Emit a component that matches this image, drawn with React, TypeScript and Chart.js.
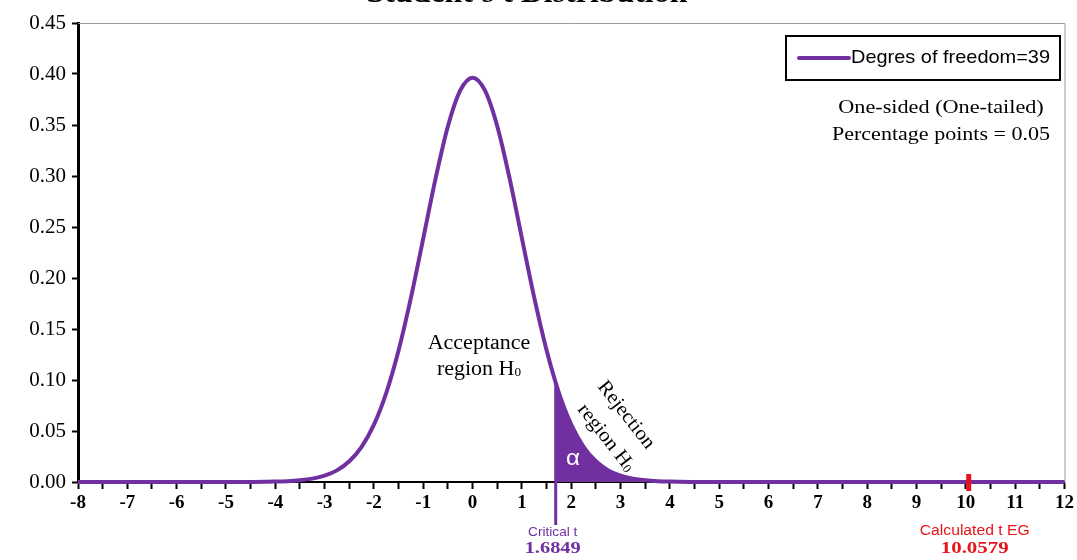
import React, { useEffect, useRef } from "react";
import { Chart, registerables } from "chart.js";

Chart.register(...registerables);

const titleText = "Student's t Distribution";
const seriesLabel = "Degres of freedom=39";
const criticalT = 1.6849;
const calculatedT = 10.0579;

const tValues = [
  -8, -6, -5, -4.5, -4, -3.75, -3.5, -3.25, -3, -2.75, -2.5, -2.25, -2, -1.75, -1.5, -1.25, -1,
  -0.75, -0.5, -0.25, 0, 0.25, 0.5, 0.75, 1, 1.25, 1.5, 1.75, 2, 2.25, 2.5, 2.75, 3, 3.25, 3.5,
  3.75, 4, 4.5, 5, 6, 8, 10, 12,
];
const densities = [
  0, 0, 0, 0.0001, 0.0004, 0.0008, 0.0017, 0.0033, 0.0062, 0.0114, 0.0203, 0.0345, 0.0562,
  0.0874, 0.1291, 0.1807, 0.2389, 0.2977, 0.3488, 0.3839, 0.3964, 0.3839, 0.3488, 0.2977,
  0.2389, 0.1807, 0.1291, 0.0874, 0.0562, 0.0345, 0.0203, 0.0114, 0.0062, 0.0033, 0.0017,
  0.0008, 0.0004, 0.0001, 0, 0, 0, 0, 0,
];

const tailT = [1.6849, 1.75, 2, 2.25, 2.5, 2.75, 3, 3.25, 3.5, 3.75, 4, 4.5, 5, 12];
const tailDensity = [
  0.0972, 0.0874, 0.0562, 0.0345, 0.0203, 0.0114, 0.0062, 0.0033, 0.0017, 0.0008, 0.0004,
  0.0001, 0, 0,
];

const yTicks = [0, 0.05, 0.1, 0.15, 0.2, 0.25, 0.3, 0.35, 0.4, 0.45];

const PURPLE = "#7030A0";
const RED = "#E8141B";
const SERIF = "'Liberation Serif', 'Times New Roman', serif";
const SANS = "'Liberation Sans', Arial, sans-serif";

function txt(ctx: any, s: string, x: number, y: number, font: string, align: string, sx: number) {
  ctx.save();
  ctx.translate(x, y);
  ctx.scale(sx, 1);
  ctx.font = font;
  ctx.textAlign = align;
  ctx.fillText(s, 0, 0);
  ctx.restore();
}

function subText(ctx: any, main: string, sub: string, size: number, subSize: number, sx: number) {
  ctx.save();
  ctx.scale(sx, 1);
  ctx.font = `${size}px ${SERIF}`;
  const w = ctx.measureText(main).width;
  ctx.font = `${subSize}px ${SERIF}`;
  const sw = ctx.measureText(sub).width;
  const x0 = -(w + sw) / 2;
  ctx.textAlign = "left";
  ctx.font = `${size}px ${SERIF}`;
  ctx.fillText(main, x0, 0);
  ctx.font = `${subSize}px ${SERIF}`;
  ctx.fillText(sub, x0 + w, 3);
  ctx.restore();
}

const overlay = {
  id: "overlay",
  afterDraw(chart: any) {
    const ctx = chart.ctx;
    const xs = chart.scales.x;
    const ys = chart.scales.y;
    const area = chart.chartArea;
    ctx.save();
    ctx.textBaseline = "alphabetic";

    // title (mostly above the canvas)
    ctx.fillStyle = "#000";
    txt(ctx, titleText, 527, 2, `bold 29px ${SERIF}`, "center", 1.1);

    // gray plot border top/right
    ctx.strokeStyle = "#9a9a9a";
    ctx.lineWidth = 1;
    ctx.beginPath();
    ctx.moveTo(area.left, area.top + 0.5);
    ctx.lineTo(area.right + 0.5, area.top + 0.5);
    ctx.lineTo(area.right + 0.5, area.bottom);
    ctx.stroke();

    // critical t line
    const cx = xs.getPixelForValue(criticalT);
    ctx.strokeStyle = PURPLE;
    ctx.lineWidth = 3;
    ctx.beginPath();
    ctx.moveTo(cx, ys.getPixelForValue(tailDensity[0]));
    ctx.lineTo(cx, area.bottom + 43);
    ctx.stroke();

    // calculated t marker
    const rx = xs.getPixelForValue(calculatedT);
    ctx.strokeStyle = RED;
    ctx.lineWidth = 5;
    ctx.beginPath();
    ctx.moveTo(rx, area.bottom - 8);
    ctx.lineTo(rx, area.bottom + 9);
    ctx.stroke();

    // bottom labels
    ctx.textBaseline = "middle";
    ctx.fillStyle = PURPLE;
    txt(ctx, "Critical t", cx - 3, area.bottom + 50, `13px ${SANS}`, "center", 1.05);
    txt(ctx, criticalT.toFixed(4), cx - 3, area.bottom + 67, `bold 17px ${SERIF}`, "center", 1.2);
    ctx.fillStyle = RED;
    txt(ctx, "Calculated t EG", rx + 6, area.bottom + 49, `14px ${SANS}`, "center", 1.12);
    txt(ctx, calculatedT.toFixed(4), rx + 6, area.bottom + 67, `bold 17px ${SERIF}`, "center", 1.23);

    // acceptance region text
    ctx.fillStyle = "#000";
    txt(ctx, "Acceptance", 479, 344, `20px ${SERIF}`, "center", 1.1);
    ctx.save();
    ctx.translate(479, 370);
    subText(ctx, "region H", "0", 20, 12, 1.1);
    ctx.restore();

    // rejection region text (rotated)
    const ang = (52 * Math.PI) / 180;
    ctx.save();
    ctx.translate(626, 415);
    ctx.rotate(ang);
    txt(ctx, "Rejection", 0, 0, `20px ${SERIF}`, "center", 1.05);
    ctx.restore();
    ctx.save();
    ctx.translate(606, 438);
    ctx.rotate(ang);
    subText(ctx, "region H", "0", 20, 12, 1.05);
    ctx.restore();

    // alpha
    ctx.fillStyle = "#fff";
    txt(ctx, "α", 573, 459, `22px ${SANS}`, "center", 1.1);

    // legend box
    ctx.strokeStyle = "#000";
    ctx.lineWidth = 2;
    ctx.strokeRect(786, 36, 274, 44);
    ctx.strokeStyle = PURPLE;
    ctx.lineWidth = 4;
    ctx.lineCap = "round";
    ctx.beginPath();
    ctx.moveTo(799, 58);
    ctx.lineTo(849, 58);
    ctx.stroke();
    ctx.fillStyle = "#000";
    txt(ctx, seriesLabel, 851, 58, `19px ${SANS}`, "left", 1.05);

    // test notes
    txt(ctx, "One-sided (One-tailed)", 941, 108, `19px ${SERIF}`, "center", 1.17);
    txt(ctx, "Percentage points = 0.05", 941, 135, `19px ${SERIF}`, "center", 1.16);

    ctx.restore();
  },
};

export default function App() {
  const ref = useRef<HTMLCanvasElement>(null);
  useEffect(() => {
    if (!ref.current) return;
    const chart = new Chart(ref.current, {
      type: "line",
      data: {
        datasets: [
          {
            label: seriesLabel,
            data: tValues.map((t, i) => ({ x: t, y: densities[i] })),
            borderColor: PURPLE,
            borderWidth: 4,
            pointRadius: 0,
            cubicInterpolationMode: "monotone",
            fill: false,
            clip: 6,
          } as any,
          {
            label: "Rejection",
            data: tailT.map((t, i) => ({ x: t, y: tailDensity[i] })),
            borderWidth: 0,
            borderColor: PURPLE,
            backgroundColor: PURPLE,
            pointRadius: 0,
            cubicInterpolationMode: "monotone",
            fill: "origin",
          } as any,
        ],
      },
      options: {
        animation: false,
        responsive: false,
        layout: { padding: { left: 0, right: 10, top: 23, bottom: 0 } },
        plugins: { legend: { display: false }, tooltip: { enabled: false }, title: { display: false } },
        scales: {
          x: {
            type: "linear",
            min: -8,
            max: 12,
            afterFit: (s: any) => {
              s.height = 78;
            },
            afterBuildTicks: (s: any) => {
              const arr = [];
              for (let v = -8; v <= 12; v += 0.5) arr.push({ value: v });
              s.ticks = arr;
            },
            ticks: {
              autoSkip: false,
              maxRotation: 0,
              padding: 3,
              color: "#000",
              font: { family: SERIF, size: 19, weight: "bold" },
              callback: (v: any) => (Number.isInteger(v) ? String(v) : ""),
            },
            grid: { drawOnChartArea: false, drawTicks: true, tickLength: 7, tickWidth: 2, tickColor: "#000", color: "#000" },
            border: { color: "#000", width: 2 },
          },
          y: {
            min: 0,
            max: 0.45,
            afterFit: (s: any) => {
              s.width = 78;
            },
            afterBuildTicks: (s: any) => {
              s.ticks = yTicks.map((v) => ({ value: v }));
            },
            ticks: {
              padding: 6,
              color: "#000",
              font: { family: SERIF, size: 21 },
              callback: (v: any) => Number(v).toFixed(2),
            },
            grid: { drawOnChartArea: false, drawTicks: true, tickLength: 6, tickWidth: 2, tickColor: "#000" },
            border: { color: "#000", width: 3 },
          },
        },
      },
      plugins: [overlay],
    });
    return () => chart.destroy();
  }, []);
  return (
    <div style={{ position: "fixed", left: 0, top: 0, width: 1077, height: 560, background: "#fff" }}>
      <canvas ref={ref} width={1077} height={560} style={{ width: 1077, height: 560 }} />
    </div>
  );
}
